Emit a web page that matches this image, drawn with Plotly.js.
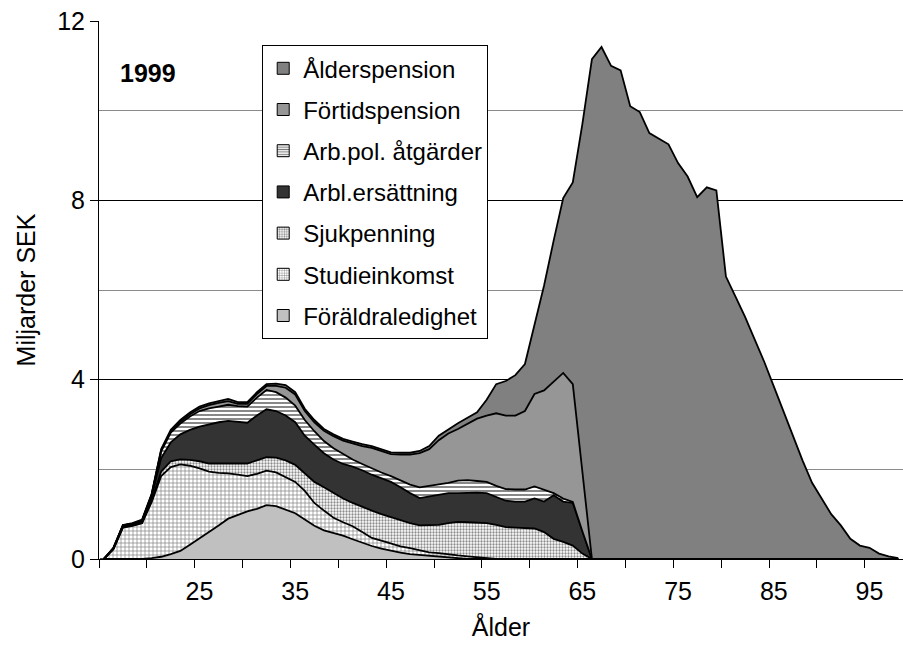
<!DOCTYPE html>
<html><head><meta charset="utf-8">
<script src="https://cdn.plot.ly/plotly-3.0.1.min.js"></script>
<style>html,body{margin:0;padding:0;background:#fff}#chart{width:903px;height:647px}</style>
</head><body><div id="chart"></div>
<script>
// Ages (categories)
const ages = [15,16,17,18,19,20,21,22,23,24,25,26,27,28,29,30,31,32,33,34,35,36,37,38,39,40,
  41,42,43,44,45,46,47,48,49,50,51,52,53,54,55,56,57,58,59,60,61,62,63,64,65,66,67,68,69,70,
  71,72,73,74,75,76,77,78,79,80,81,82,83,84,85,86,87,88,89,90,91,92,93,94,95,96,97,98];

// Series values (miljarder SEK), stacked bottom to top
const foraldraledighet = [0,0,0,0,0,0.02,0.05,0.11,0.18,0.32,0.46,0.60,0.75,0.90,0.98,1.06,1.12,1.20,1.18,1.10,1.02,0.88,0.74,0.64,0.58,0.52,
  0.44,0.36,0.29,0.23,0.18,0.14,0.11,0.09,0.07,0.05,0.03,0.01,0,0,0,0,0,0,0,0,0,0,0,0,0,0,0,0,0,0,
  0,0,0,0,0,0,0,0,0,0,0,0,0,0,0,0,0,0,0,0,0,0,0,0,0,0,0,0];
const studieinkomst = [0,0.22,0.70,0.74,0.80,1.25,1.80,1.94,1.93,1.76,1.56,1.35,1.17,1.01,0.90,0.79,0.78,0.77,0.75,0.73,0.70,0.64,0.51,0.44,0.34,0.30,
  0.29,0.24,0.18,0.18,0.16,0.14,0.13,0.11,0.08,0.08,0.07,0.07,0.06,0.04,0.02,0,0,0,0,0,0,0,0,0,0,0,0,0,0,0,
  0,0,0,0,0,0,0,0,0,0,0,0,0,0,0,0,0,0,0,0,0,0,0,0,0,0,0,0];
const sjukpenning = [0,0,0.01,0.01,0.01,0.03,0.10,0.13,0.11,0.13,0.16,0.18,0.21,0.22,0.25,0.28,0.30,0.30,0.33,0.37,0.38,0.40,0.47,0.52,0.55,0.53,
  0.52,0.56,0.61,0.59,0.59,0.58,0.56,0.55,0.60,0.63,0.70,0.75,0.76,0.77,0.78,0.76,0.71,0.70,0.69,0.68,0.60,0.45,0.38,0.30,0.12,0,0,0,0,0,
  0,0,0,0,0,0,0,0,0,0,0,0,0,0,0,0,0,0,0,0,0,0,0,0,0,0,0,0];
const arblersattning = [0,0.02,0.03,0.03,0.04,0.10,0.30,0.42,0.56,0.67,0.77,0.87,0.92,0.95,0.93,0.91,1.00,1.07,1.04,1.00,0.95,0.83,0.83,0.76,0.75,0.77,
  0.81,0.82,0.80,0.80,0.79,0.74,0.67,0.61,0.65,0.68,0.67,0.64,0.66,0.67,0.67,0.62,0.59,0.58,0.59,0.67,0.68,0.97,0.90,0.95,0.48,0,0,0,0,0,
  0,0,0,0,0,0,0,0,0,0,0,0,0,0,0,0,0,0,0,0,0,0,0,0,0,0,0,0];
const arbpolatgarder = [0,0,0.01,0.01,0.01,0.03,0.15,0.22,0.24,0.30,0.35,0.36,0.35,0.36,0.35,0.36,0.40,0.43,0.42,0.40,0.37,0.35,0.30,0.27,0.25,0.23,
  0.16,0.14,0.14,0.13,0.13,0.15,0.19,0.24,0.23,0.23,0.23,0.28,0.28,0.26,0.25,0.25,0.26,0.27,0.27,0.27,0.27,0.05,0.07,0.02,0.02,0,0,0,0,0,
  0,0,0,0,0,0,0,0,0,0,0,0,0,0,0,0,0,0,0,0,0,0,0,0,0,0,0,0];
const fortidspension = [0,0,0,0,0,0.01,0.03,0.03,0.04,0.05,0.06,0.07,0.08,0.08,0.05,0.06,0.08,0.09,0.14,0.22,0.25,0.20,0.20,0.23,0.27,0.29,
  0.36,0.40,0.46,0.48,0.49,0.58,0.67,0.76,0.82,0.98,1.10,1.15,1.26,1.39,1.48,1.62,1.64,1.65,1.75,2.06,2.21,2.48,2.80,2.63,1.28,0,0,0,0,0,
  0,0,0,0,0,0,0,0,0,0,0,0,0,0,0,0,0,0,0,0,0,0,0,0,0,0,0,0];
const alderspension = [0,0.01,0.01,0.01,0.02,0.01,0.02,0.03,0.04,0.04,0.04,0.04,0.04,0.05,0.04,0.04,0.04,0.04,0.05,0.06,0.05,0.05,0.05,0.04,0.04,0.04,
  0.04,0.04,0.04,0.04,0.04,0.04,0.04,0.05,0.07,0.10,0.10,0.13,0.13,0.14,0.35,0.65,0.77,0.90,1.05,1.52,2.34,3.15,3.90,4.50,7.80,11.15,11.42,11.0,10.9,10.1,
  9.97,9.5,9.37,9.25,8.83,8.53,8.07,8.29,8.22,6.3,5.85,5.4,4.9,4.4,3.85,3.3,2.75,2.2,1.7,1.35,1.0,0.75,0.45,0.3,0.25,0.12,0.06,0.02];

// Axis ticks
const xLabelAges = [25,35,45,55,65,75,85,95];
const xTickMarks = [14.5,19.5,24.5,29.5,34.5,39.5,44.5,49.5,54.5,59.5,64.5,69.5,74.5,79.5,84.5,89.5,94.5];
const yTickVals = [0,4,8,12];

const FONT = 'Liberation Sans, Arial, sans-serif';

const seriesDefs = [
  {name:'Föräldraledighet', y:foraldraledighet, color:'#c0c0c0'},
  {name:'Studieinkomst', y:studieinkomst, color:'#ffffff', pattern:{shape:'+', size:4, solidity:0.3, fgcolor:'#7a7a7a', bgcolor:'#ffffff'}},
  {name:'Sjukpenning', y:sjukpenning, color:'#ffffff', pattern:{shape:'.', size:3, solidity:0.45, fgcolor:'#8c8c8c', bgcolor:'#ffffff'}},
  {name:'Arbl.ersättning', y:arblersattning, color:'#333333'},
  {name:'Arb.pol. åtgärder', y:arbpolatgarder, color:'#ffffff', pattern:{shape:'-', size:4, solidity:0.45, fgcolor:'#7a7a7a', bgcolor:'#ffffff'}},
  {name:'Förtidspension', y:fortidspension, color:'#969696'},
  {name:'Ålderspension', y:alderspension, color:'#808080'}
];

const traces = [];
seriesDefs.forEach(s => {
  const t = {
    type:'scatter', mode:'lines', x:ages, y:s.y, name:s.name,
    stackgroup:'one', line:{color:'#000', width:1.8, shape:'linear'},
    fillcolor:s.color, showlegend:false, hoverinfo:'skip'
  };
  if (s.pattern) t.fillpattern = s.pattern;
  traces.push(t);
});
// legend entries (square swatches), top to bottom; zero-height keys at the first age
seriesDefs.slice().reverse().forEach((s, i) => {
  const m = {color:s.color, line:{color:'#000', width:1}};
  if (s.pattern) m.pattern = Object.assign({}, s.pattern, {size:3});
  traces.push({type:'bar', x:[ages[0]], y:[s.y[0]], name:s.name, marker:m, legendgroup:'g'+i, showlegend:true, hoverinfo:'skip'});
});

const layout = {
  width:903, height:647,
  margin:{l:99, r:0, t:21, b:88},
  paper_bgcolor:'#fff', plot_bgcolor:'#fff',
  font:{family:FONT, size:25, color:'#000'},
  showlegend:true,
  hovermode:false,
  legend:{x:0.203, y:0.955, xanchor:'left', yanchor:'top', bgcolor:'#fff',
    bordercolor:'#000', borderwidth:1, font:{family:FONT, size:24, color:'#000'},
    traceorder:'grouped', tracegroupgap:7},
  xaxis:{
    range:[14.5, 98.5], tickmode:'array', tickvals:xLabelAges, ticks:'',
    showgrid:false, zeroline:false, showline:true, linecolor:'#000', linewidth:1,
    tickfont:{size:25, family:FONT}, ticklabelstandoff:10,
    minor:{tickmode:'array', tickvals:xTickMarks, ticks:'outside', ticklen:8, tickcolor:'#000', tickwidth:1, showgrid:false},
    title:{text:'Ålder', font:{size:25, family:FONT}, standoff:14}
  },
  yaxis:{
    range:[0,12], tickmode:'array', tickvals:yTickVals, ticks:'outside', ticklen:8, tickcolor:'#000',
    showgrid:true, gridcolor:'#000', gridwidth:1, zeroline:false, showline:true, linecolor:'#000', linewidth:1,
    tickfont:{size:25, family:FONT},
    minor:{dtick:2, tick0:0, showgrid:true, gridcolor:'#8a8a8a', gridwidth:1, ticks:''},
    title:{text:'Miljarder SEK', font:{size:25, family:FONT}, standoff:14}
  },
  annotations:[{xref:'paper', yref:'paper', x:0.024, y:0.903, xanchor:'left', yanchor:'middle',
    text:'<b>1999</b>', showarrow:false, font:{family:FONT, size:25, color:'#000'}}]
};

Plotly.newPlot('chart', traces, layout, {staticPlot:true, displayModeBar:false});
</script></body></html>
